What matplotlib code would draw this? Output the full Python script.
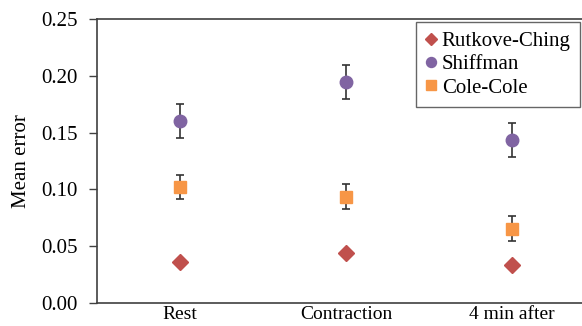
import matplotlib
matplotlib.use("Agg")
import matplotlib.pyplot as plt
import numpy as np

categories = ["Rest", "Contraction", "4 min after"]
rutkove = [0.0365, 0.0437, 0.0335]
shiffman = [0.160, 0.1945, 0.1435]
shiffman_err = [0.0148, 0.0148, 0.0148]
colecole = [0.102, 0.0937, 0.0655]
colecole_err = [0.0108, 0.0108, 0.0108]

plt.rcParams['font.family'] = ['Liberation Serif', 'DejaVu Serif']

fig = plt.figure(figsize=(5.82, 3.26), dpi=100)
ax = fig.add_axes([97/582, 23/326, (595-97)/582, (303-19)/326])
x = np.arange(len(categories)) + 0.5

ax.errorbar(x, colecole, yerr=colecole_err, fmt='none', ecolor='#333333', elinewidth=1.2, capsize=3, capthick=1.2, zorder=2)
ax.errorbar(x, shiffman, yerr=shiffman_err, fmt='none', ecolor='#333333', elinewidth=1.2, capsize=3, capthick=1.2, zorder=2)
ax.plot(x, rutkove, linestyle='none', marker='D', markersize=8, color='#C0504D', label='Rutkove-Ching', zorder=3)
ax.plot(x, shiffman, linestyle='none', marker='o', markersize=9, color='#8064A2', label='Shiffman', zorder=3)
ax.plot(x, colecole, linestyle='none', marker='s', markersize=8.5, color='#F79646', label='Cole-Cole', zorder=3)

ax.set_xlim(0, 3)
ax.set_ylim(0, 0.25)
ax.set_xticks(x)
ax.set_xticklabels(categories, fontsize=14)
ax.set_yticks(np.arange(0, 0.2501, 0.05))
ax.set_yticklabels([f"{v:.2f}" for v in np.arange(0, 0.2501, 0.05)], fontsize=15)
ax.tick_params(axis='x', length=0, pad=2)
ax.tick_params(axis='y', direction='out', length=6, width=1, color='#404040', pad=8)
ax.set_ylabel("Mean error", fontsize=15, labelpad=7)
for s in ['left', 'bottom', 'top']:
    ax.spines[s].set_color('#404040')
    ax.spines[s].set_linewidth(1.2)
ax.spines['right'].set_visible(False)

h, l = ax.get_legend_handles_labels()
leg = fig.legend(h, l, loc='upper right', bbox_to_anchor=(580/582, 1 - 22/326),
                 bbox_transform=fig.transFigure, fontsize=15, frameon=True, fancybox=False,
                 edgecolor='#404040', handlelength=0.6, handletextpad=0.2, borderpad=0.45,
                 labelspacing=0.18, markerscale=0.8, borderaxespad=0)
leg.get_frame().set_linewidth(1.0)

fig.savefig("out.png", dpi=100)
